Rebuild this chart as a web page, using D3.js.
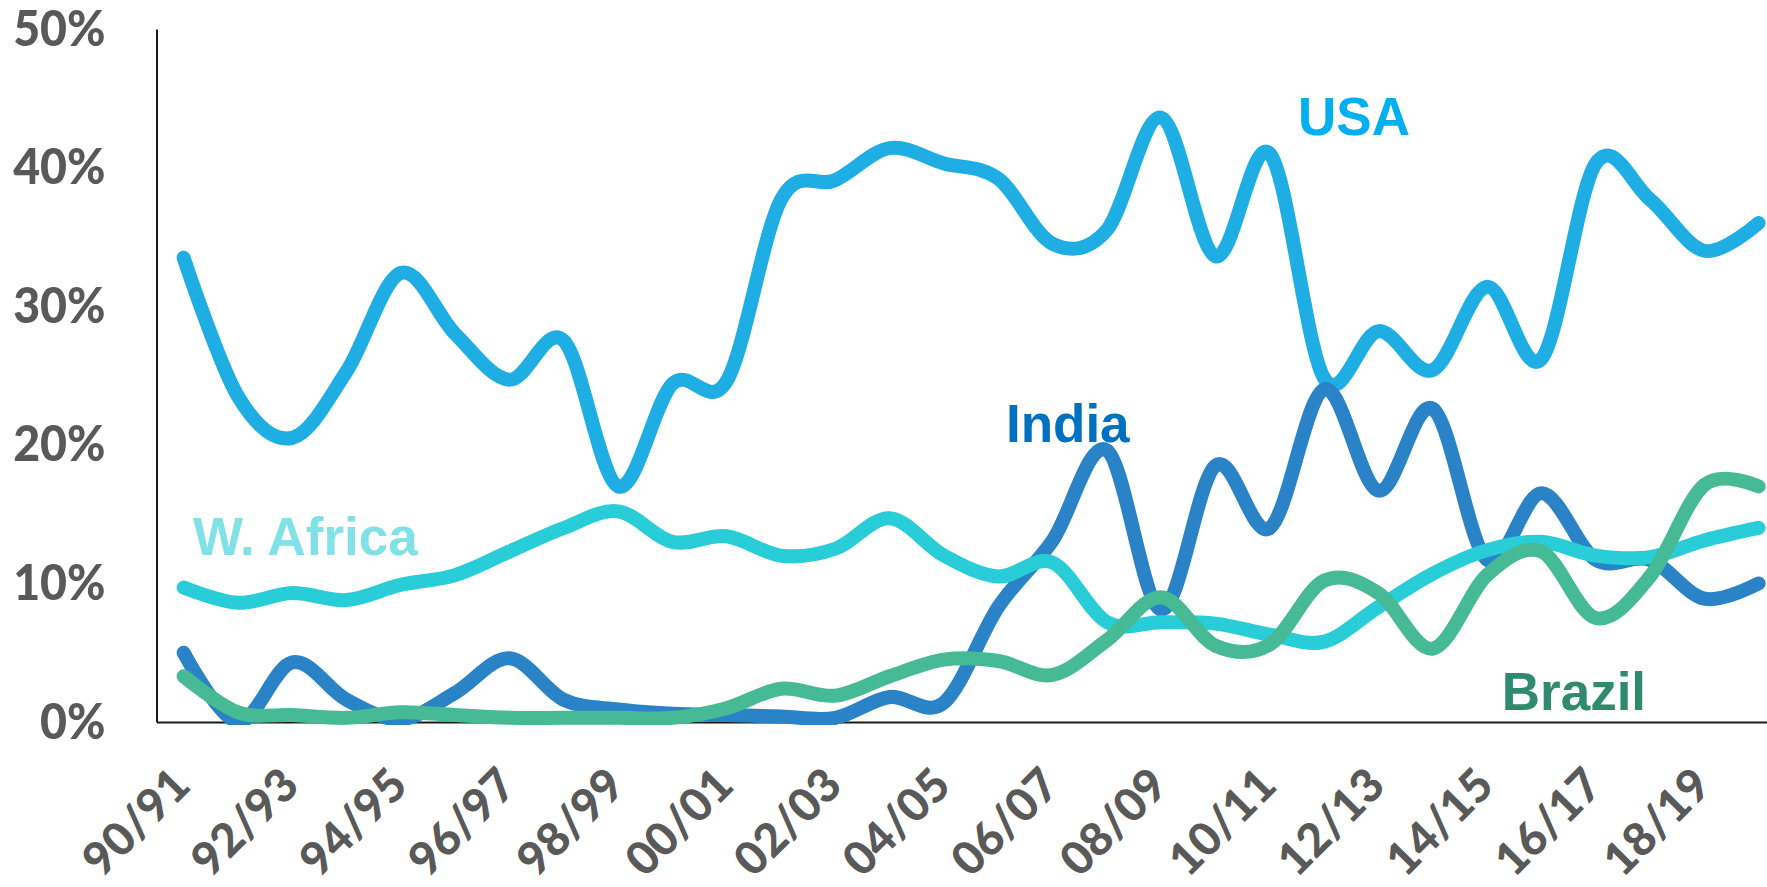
<!DOCTYPE html>
<html>
<head>
<meta charset="utf-8">
<script src="https://d3js.org/d3.v7.min.js"></script>
<style>
    body { margin: 0; background: #ffffff; }
    svg { display: block; }
</style>
</head>
<body>
<svg id="drawing_region"></svg>
<script>
const seasons = ["90/91","91/92","92/93","93/94","94/95","95/96","96/97","97/98","98/99","99/00",
		 "00/01","01/02","02/03","03/04","04/05","05/06","06/07","07/08","08/09","09/10",
		 "10/11","11/12","12/13","13/14","14/15","15/16","16/17","17/18","18/19","19/20"];

const usa = [33.5, 23.5, 20.5, 25.3, 32.4, 28.0, 24.7, 27.5, 17.0, 24.4,
	     24.6, 37.7, 39.1, 41.4, 40.3, 39.2, 34.5, 35.5, 43.6, 33.6,
	     41.0, 24.8, 28.2, 25.4, 31.4, 26.2, 40.3, 37.7, 34.0, 36.0];

const india = [5.0, 0.0, 4.3, 1.6, 0.2, 2.1, 4.6, 1.6, 0.9, 0.6,
	       0.5, 0.4, 0.3, 1.8, 1.4, 8.3, 13.1, 19.6, 8.1, 18.5,
	       14.0, 24.0, 16.7, 22.6, 11.7, 16.5, 11.7, 11.7, 8.9, 10.0];

const wAfrica = [9.7, 8.6, 9.3, 8.8, 9.9, 10.6, 12.3, 14.0, 15.2, 13.0,
		 13.4, 12.0, 12.5, 14.7, 12.0, 10.5, 11.5, 7.2, 7.2, 7.1,
		 6.3, 5.8, 8.3, 10.7, 12.4, 13.0, 12.0, 11.9, 13.1, 14.0];

const brazil = [3.3, 0.7, 0.5, 0.3, 0.7, 0.5, 0.3, 0.3, 0.3, 0.3,
		1.0, 2.4, 1.9, 3.3, 4.5, 4.4, 3.4, 5.9, 9.0, 5.5,
		5.6, 10.2, 9.3, 5.3, 10.6, 12.3, 7.5, 10.5, 17.1, 17.0];

const yTicks = [0, 10, 20, 30, 40, 50];
const xTickLabels = ["90/91","92/93","94/95","96/97","98/99","00/01","02/03","04/05",
		     "06/07","08/09","10/11","12/13","14/15","16/17","18/19"];

const seriesNames = ["USA", "India", "W. Africa", "Brazil"];
const seriesValues = [usa, india, wAfrica, brazil];

// where each series name sits: season, share of band, value
const labelSeason = ["11/12", "05/06", "90/91", "14/15"];
const labelShift = [0.02, 0.64, 0.67, 0.77];
const labelValue = [42.35, 20.2, 12.05, 0.87];

var config = {
    parent: '#drawing_region',
    width: 1767,
    height: 887,
    margin: {top: 29, left: 156.5, bottom: 165},
    band: 54.31
};

const data = seriesNames.map( (name, i) => ({
    name: name,
    values: seriesValues[i].map( (v, j) => ({season: seasons[j], value: v / 100}) )
}));

class LineChart{

    constructor( config, data ){
	this.config = config;
	this.data = data;
	this.lineColors = {"USA": "#1faee3", "India": "#2983c6", "W. Africa": "#29cdd7", "Brazil": "#45ba95"};
	this.textColors = {"USA": "#00b0f0", "India": "#0070c0", "W. Africa": "#80e2e7", "Brazil": "#2f8a6e"};
	this.init();
    }

    init() {
	let self = this;

	self.svg = d3.select( self.config.parent )
	    .attr('width', self.config.width)
	    .attr('height', self.config.height);

	self.bottom = self.config.height - self.config.margin.bottom;

	self.xscale = d3.scaleBand()
	    .domain( seasons )
	    .range( [self.config.margin.left, self.config.margin.left + seasons.length * self.config.band] )
	    .padding( 0 );

	self.yscale = d3.scaleLinear()
	    .domain( [0, 0.5] )
	    .range( [self.bottom, self.config.margin.top] );

	self.line = d3.line()
	    .x( d => self.xscale(d.season) + self.xscale.bandwidth()/2 )
	    .y( d => self.yscale(d.value) )
	    .curve( d3.curveCardinal.tension(0) );

	self.svg.append('clipPath')
	    .attr('id', 'plot_clip')
	    .append('rect')
	    .attr('x', self.config.margin.left)
	    .attr('y', 0)
	    .attr('width', self.config.width)
	    .attr('height', self.bottom + 3);
    }

    update() {
	let self = this;

	self.render();
    }

    render() {
	let self = this;

	// labels are a bit narrow in the original, squeeze them
	const squeeze = 0.93;

	const yaxis = d3.axisLeft( self.yscale )
	    .tickValues( yTicks.map( d => d / 100 ) )
	    .tickFormat( d3.format('.0%') )
	    .tickSize( 0 );

	const ya = self.svg.append('g')
	    .attr('transform', `translate(${self.config.margin.left}, 0)`)
	    .call( yaxis );
	ya.select('.domain').attr('stroke', '#1a1a1a').attr('stroke-width', 2);
	ya.selectAll('text')
	    .attr('x', -51 / squeeze)
	    .attr('transform', `scale(${squeeze}, 1)`)
	    .attr('fill', '#595959')
	    .style('font-family', 'Lato, sans-serif')
	    .style('font-weight', 900)
	    .style('font-size', '50px');

	const xaxis = d3.axisBottom( self.xscale )
	    .tickValues( xTickLabels )
	    .tickSize( 0 )
	    .tickSizeOuter( 0 );

	const xa = self.svg.append('g')
	    .attr('transform', `translate(0, ${self.bottom})`)
	    .call( xaxis );
	xa.select('.domain').attr('stroke', '#1a1a1a').attr('stroke-width', 2);
	xa.selectAll('text')
	    .attr('x', 0)
	    .attr('y', 0)
	    .attr('dy', 0)
	    .attr('text-anchor', 'end')
	    .attr('transform', 'translate(9, 66) rotate(-45)')
	    .attr('fill', '#595959')
	    .style('font-family', 'Lato, sans-serif')
	    .style('font-weight', 900)
	    .style('font-size', '46px');

	self.svg.append('g')
	    .attr('clip-path', 'url(#plot_clip)')
	    .selectAll('path')
	    .data( self.data )
	    .enter()
	    .append('path')
	    .attr('d', d => self.line(d.values))
	    .attr('fill', 'none')
	    .attr('stroke', d => self.lineColors[d.name])
	    .attr('stroke-width', 14)
	    .attr('stroke-linecap', 'round')
	    .attr('stroke-linejoin', 'round');

	self.svg.selectAll('.series_label')
	    .data( seriesNames )
	    .enter()
	    .append('text')
	    .attr('class', 'series_label')
	    .attr('x', (d, i) => self.xscale(labelSeason[i]) + labelShift[i] * self.xscale.bandwidth())
	    .attr('y', (d, i) => self.yscale(labelValue[i] / 100))
	    .attr('fill', d => self.textColors[d])
	    .style('font-family', '"Liberation Sans", Arial, sans-serif')
	    .style('font-weight', 700)
	    .style('font-size', '53px')
	    .text( d => d );
    }
}

const line_chart = new LineChart( config, data );
line_chart.update();
</script>
</body>
</html>
